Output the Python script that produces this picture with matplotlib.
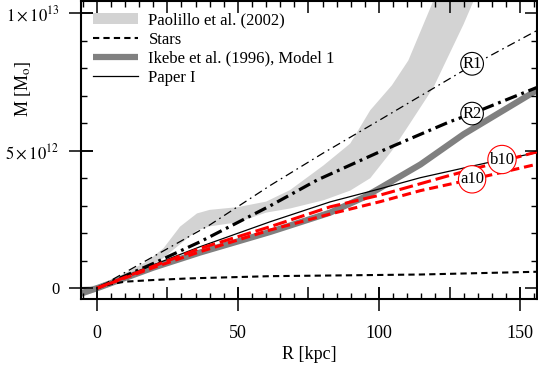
import numpy as np
import matplotlib
matplotlib.use("Agg")
import matplotlib.pyplot as plt
from matplotlib.patches import Patch
from matplotlib.lines import Line2D
from matplotlib.ticker import MultipleLocator, FixedLocator, NullFormatter

plt.rcParams['font.family'] = ['Liberation Serif', 'DejaVu Serif']
plt.rcParams['mathtext.fontset'] = 'stix'
plt.rcParams['lines.scale_dashes'] = False

# mass profiles, M in units of 1e12 Msun, R in kpc
# Paolillo et al. (2002) band
pao_r = [-6, 0, 5, 10, 17.7, 23.6, 29.5, 35.5, 40, 50, 60, 68.5, 80.4, 89.8, 96.9, 104.6, 110.4, 119.3, 130, 140]
pao_hi = [0.05, 0.1, 0.3, 0.55, 0.97, 1.45, 2.24, 2.72, 2.85, 2.95, 3.15, 3.57, 4.47, 5.26, 6.47, 7.38, 8.28, 10.46, 13.0, 15.0]
pao_lo = [-0.35, -0.1, 0.15, 0.35, 0.7, 1.1, 1.6, 2.1, 2.25, 2.4, 2.75, 2.9, 3.2, 3.55, 4.0, 5.0, 5.9, 7.3, 9.6, 12.0]

# stars
star_r = [0, 5, 10, 20, 33, 61.5, 114.7, 156]
star_m = [0, 0.15, 0.24, 0.3, 0.36, 0.44, 0.5, 0.6]

# Ikebe et al. (1996), Model 1
ike_r = [-6, 0, 20, 36.6, 61.5, 82.7, 94.5, 100.5, 114.7, 130, 156]
ike_m = [-0.2, 0, 0.75, 1.3, 2.05, 2.75, 3.3, 3.65, 4.5, 5.6, 7.2]

# Paper I
p1_r = [0, 20, 36.6, 61.5, 82.7, 100.5, 114.7, 140, 156]
p1_m = [0, 0.85, 1.51, 2.42, 3.14, 3.62, 4.02, 4.6, 4.93]

# models R1, R2
r1_r = [0, 20, 40, 61.5, 80, 100, 133, 156]
r1_m = [0, 1.15, 2.3, 3.74, 4.9, 6.1, 8.1, 9.37]
r2_r = [0, 20, 36.6, 61.5, 78, 100, 125, 133, 156]
r2_m = [0, 0.9, 1.69, 3.0, 3.93, 4.95, 6.05, 6.35, 7.3]

# models b10, a10
b10_r = [0, 20, 36.6, 61.5, 82.7, 100.5, 125, 156]
b10_m = [0, 0.8, 1.45, 2.24, 2.96, 3.39, 4.1, 4.96]
a10_r = [0, 20, 36.6, 61.5, 82.7, 100.5, 114.7, 133, 156]
a10_m = [0, 0.75, 1.33, 2.12, 2.7, 3.15, 3.55, 3.96, 4.51]

xlim = (-5.6, 156)
ylim = (-0.39e12, 1.046e13)
rect = [81/538, 68/367, 456/538, 298.5/367]

fig = plt.figure(figsize=(5.38, 3.67), dpi=100)
ax = fig.add_axes(rect)

e = 1e12
ax.fill_between(pao_r, np.array(pao_lo)*e, np.array(pao_hi)*e, color='#d3d3d3', lw=0, zorder=1)
ax.plot(ike_r, np.array(ike_m)*e, color='#808080', lw=4.5, solid_capstyle='butt', zorder=2)
ax.plot(star_r, np.array(star_m)*e, color='k', lw=1.5, ls=(0, (4.5, 3)), zorder=3)
ax.plot(r1_r, np.array(r1_m)*e, color='k', lw=0.9, ls=(0, (6, 3, 1.2, 3)), zorder=3)
ax.plot(r2_r, np.array(r2_m)*e, color='k', lw=2.3, ls=(0, (9, 3.5, 2, 3.5)), zorder=3)
ax.plot(p1_r, np.array(p1_m)*e, color='k', lw=0.9, zorder=3)
ax.plot(b10_r, np.array(b10_m)*e, color='#ff0000', lw=2.2, ls=(0, (10, 3.5)), zorder=4)
ax.plot(a10_r, np.array(a10_m)*e, color='#ff0000', lw=2.2, ls=(0, (6.5, 3.5)), zorder=4)

# circled model labels
for txt, x, y, c in [('R1', 133, 8.16, 'k'), ('R2', 133, 6.35, 'k'),
                     ('b10', 143.6, 4.68, '#ff0000'), ('a10', 133, 3.96, '#ff0000')]:
    ax.text(x, y*e, txt, fontsize=12, ha='center', va='center', zorder=6,
            bbox=dict(boxstyle='circle,pad=0.1', fc='white', ec=c, lw=0.8))

ax.set_xlim(*xlim)
ax.set_ylim(*ylim)

ax.set_xticks([0, 50, 100, 150])
ax.set_yticks([0, 5e12, 1e13])
ax.set_yticklabels(['0', r'$5\times10^{12}$', r'$1\times10^{13}$'])
ax.tick_params(which='major', direction='inout', length=17, width=1.1,
               top=False, right=False)
ax.tick_params(axis='x', which='major', pad=10, labelsize=13)
ax.tick_params(axis='y', which='major', pad=7, labelsize=12)
for s in ax.spines.values():
    s.set_linewidth(1.5)

# overlay axes carrying the inward ticks on all four sides
ov = fig.add_axes(rect, label='ticks', frameon=False)
ov.patch.set_visible(False)
ov.set_xlim(*xlim)
ov.set_ylim(*ylim)
ov.xaxis.set_major_locator(MultipleLocator(25))
ov.xaxis.set_minor_locator(MultipleLocator(5))
ov.yaxis.set_major_locator(FixedLocator([0, 5e12, 1e13]))
ov.yaxis.set_minor_locator(MultipleLocator(1e12))
ov.xaxis.set_major_formatter(NullFormatter())
ov.yaxis.set_major_formatter(NullFormatter())
ov.tick_params(which='both', direction='in', top=True, right=True, bottom=True, left=True,
               labelbottom=False, labelleft=False)
ov.tick_params(which='major', length=8.6, width=1.1)
ov.tick_params(which='minor', length=4.3, width=1.0)

ax.set_xlabel('R [kpc]', fontsize=13, labelpad=3)
ax.set_ylabel(r'M [M$_{\rm o}$]', fontsize=13)
ax.yaxis.set_label_coords(-0.105, 0.705)

handles = [Patch(facecolor='#d3d3d3', edgecolor='none'),
           Line2D([], [], color='k', lw=1.5, ls=(0, (4.5, 3))),
           Line2D([], [], color='#808080', lw=4.5, solid_capstyle='butt'),
           Line2D([], [], color='k', lw=0.9)]
labels = ['Paolillo et al. (2002)', 'Stars', 'Ikebe et al. (1996), Model 1', 'Paper I']
ax.legend(handles, labels, loc='upper left', bbox_to_anchor=(0, 1), frameon=False,
          fontsize=12, handlelength=2.7, handletextpad=0.65, labelspacing=0.2,
          borderaxespad=0, borderpad=0.7)

fig.savefig('out.png', dpi=100)
